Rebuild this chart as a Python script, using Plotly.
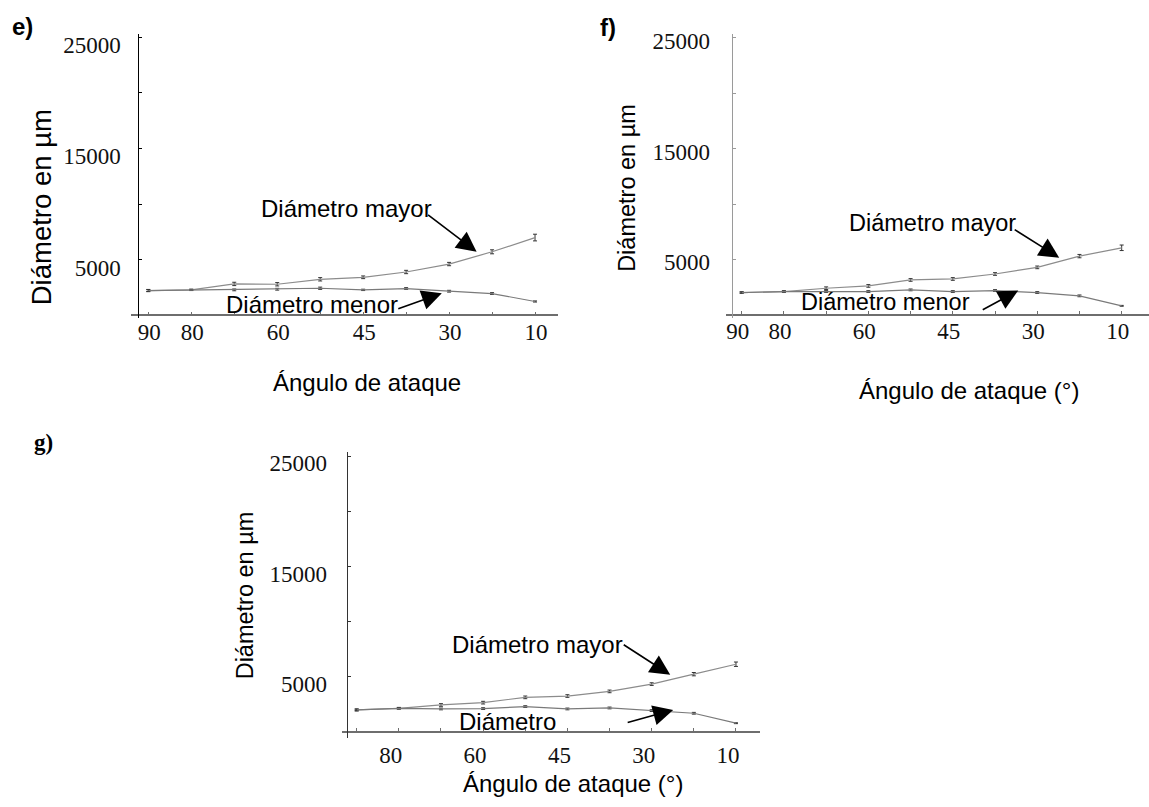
import plotly.graph_objects as go

W, H = 1149, 807

# --- datos -----------------------------------------------------------------
ANGULOS = ["90", "80", "70", "60", "50", "45", "40", "30", "20", "10"]
ROTULOS_EF = ["90", "80", "", "60", "", "45", "", "30", "", "10"]
ROTULOS_G = ["", "80", "", "60", "", "45", "", "30", "", "10"]

Y_TICKS = [5000, 10000, 15000, 20000, 25000]
Y_ROTULOS = ["5000", "", "15000", "", "25000"]

# e)
MAYOR_E = [2229, 2289, 2824, 2795, 3241, 3420, 3896, 4610, 5711, 6990]
MENOR_E = [2229, 2289, 2289, 2348, 2437, 2289, 2408, 2170, 1961, 1247]
ERR_MAYOR_E = [100, 60, 150, 150, 150, 120, 150, 150, 180, 300]
ERR_MENOR_E = [80, 50, 80, 80, 100, 60, 80, 80, 80, 50]

# f)
MAYOR_F = [2008, 2098, 2397, 2606, 3145, 3234, 3683, 4282, 5299, 6050]
MENOR_F = [2008, 2098, 2098, 2098, 2247, 2098, 2188, 2008, 1708, 808]
ERR_MAYOR_F = [60, 60, 120, 120, 120, 120, 120, 120, 150, 250]
ERR_MENOR_F = [60, 60, 80, 80, 80, 80, 80, 80, 80, 40]

# g)
MAYOR_G = [1981, 2131, 2432, 2642, 3123, 3243, 3664, 4326, 5227, 6129]
MENOR_G = [1981, 2131, 2071, 2101, 2281, 2071, 2161, 1921, 1680, 778]
ERR_MAYOR_G = [100, 80, 120, 120, 120, 120, 120, 120, 150, 200]
ERR_MENOR_G = [60, 60, 80, 80, 80, 80, 80, 80, 80, 40]

# --- geometría de cada panel (píxeles) ---------------------------------------
GEO = {
    "e": dict(x0=131, x1=558, yx=138.3, top=29.3, zero=312.3, bot=315.3,
              first=148.3, step=42.97, ppk=11.2),
    "f": dict(x0=726, x1=1149, yx=731.7, top=29.3, zero=311.7, bot=314.7,
              first=741.7, step=42.22, ppk=11.14),
    "g": dict(x0=341.7, x1=760, yx=346.7, top=449.3, zero=731.3, bot=738,
              first=356.7, step=42.14, ppk=11.09),
}


def fx(p):
    return p / W


def fy(p):
    return 1 - p / H


SANS = "Liberation Sans, Arial, sans-serif"
SERIF = "Liberation Serif, Times New Roman, serif"

fig = go.Figure()
layout = dict(
    width=W, height=H, margin=dict(l=0, r=0, t=0, b=0),
    paper_bgcolor="white", plot_bgcolor="rgba(0,0,0,0)", showlegend=False,
)
annotations = []

paneles = [
    ("e", 1, MAYOR_E, MENOR_E, ERR_MAYOR_E, ERR_MENOR_E, ROTULOS_EF,
     dict(ycol="#000000", xcol="#6e6e6e", yshift=8, ystand=13, xshift=1, xstand=-4)),
    ("f", 3, MAYOR_F, MENOR_F, ERR_MAYOR_F, ERR_MENOR_F, ROTULOS_EF,
     dict(ycol="#9a9a9a", xcol="#6e6e6e", yshift=3, ystand=17, xshift=-4, xstand=-4)),
    ("g", 5, MAYOR_G, MENOR_G, ERR_MAYOR_G, ERR_MENOR_G, ROTULOS_G,
     dict(ycol="#333333", xcol="#6e6e6e", yshift=7, ystand=15, xshift=-8, xstand=3)),
]

for clave, n, mayor, menor, err_may, err_men, rotulos, est in paneles:
    g = GEO[clave]
    xr = [(g["x0"] - g["first"]) / g["step"], (g["x1"] - g["first"]) / g["step"]]
    yr = [(g["zero"] - g["bot"]) / g["ppk"] * 1000, (g["zero"] - g["top"]) / g["ppk"] * 1000]
    xdom = [fx(g["x0"]), fx(g["x1"])]
    ydom = [fy(g["bot"]), fy(g["top"])]
    xname, yname = f"xaxis{'' if n == 1 else n}", f"yaxis{'' if n == 1 else n}"
    xo, yo = f"xaxis{n + 1}", f"yaxis{n + 1}"
    xref, yref = f"x{'' if n == 1 else n}", f"y{'' if n == 1 else n}"

    tick_font = dict(family=SERIF, size=23, color="#111111")

    layout[xname] = dict(
        type="category", domain=xdom, range=xr, anchor="free", position=fy(g["zero"]),
        showline=True, linecolor=est["xcol"], linewidth=1.5,
        tickmode="array", tickvals=ANGULOS, ticktext=rotulos,
        ticks="inside", ticklen=3, tickcolor=est["xcol"], tickwidth=1,
        tickfont=tick_font, ticklabelshift=est["xshift"], ticklabelstandoff=est["xstand"],
        showgrid=False, zeroline=False, fixedrange=True,
    )
    layout[yname] = dict(
        domain=ydom, range=yr, anchor="free", position=fx(g["yx"]),
        showline=True, linecolor=est["ycol"], linewidth=1,
        tickmode="array", tickvals=Y_TICKS, ticktext=Y_ROTULOS,
        ticks="inside", ticklen=3, tickcolor=est["ycol"], tickwidth=1,
        tickfont=tick_font, ticklabelshift=est["yshift"], ticklabelstandoff=est["ystand"],
        showgrid=False, zeroline=False, fixedrange=True,
    )
    # segunda capa de marcas para que crucen el eje
    layout[xo] = dict(
        overlaying=xref, range=xr, anchor="free", position=fy(g["zero"]),
        showline=False, tickmode="array", tickvals=list(range(len(ANGULOS))),
        ticks="outside", ticklen=3, tickcolor=est["xcol"], tickwidth=1,
        showticklabels=False, showgrid=False, zeroline=False, fixedrange=True,
    )
    layout[yo] = dict(
        overlaying=yref, range=yr, anchor="free", position=fx(g["yx"]),
        showline=False, tickmode="array", tickvals=Y_TICKS,
        ticks="outside", ticklen=3, tickcolor=est["ycol"], tickwidth=1,
        showticklabels=False, showgrid=False, zeroline=False, fixedrange=True,
    )

    for serie, err, col in ((mayor, err_may, "#8c8c8c"), (menor, err_men, "#7a7a7a")):
        fig.add_trace(go.Scatter(
            x=ANGULOS, y=serie, mode="lines", xaxis=xref, yaxis=yref,
            line=dict(color=col, width=1.2),
            error_y=dict(type="data", array=err, color="#333333", thickness=1, width=2),
            hoverinfo="skip",
        ))

# --- rótulos y flechas ---------------------------------------------------------
def texto(x, y, s, xr_, yr_, size=24):
    annotations.append(dict(x=x, y=y, xref=xr_, yref=yr_, text=s, showarrow=False,
                            xanchor="center", yanchor="middle",
                            font=dict(family=SANS, size=size, color="black")))


def flecha(x, y, ax, ay, xr_, yr_):
    annotations.append(dict(x=x, y=y, xref=xr_, yref=yr_, text="", showarrow=True,
                            ax=ax, ay=ay, arrowhead=2, arrowsize=2.5, arrowwidth=1.6,
                            arrowcolor="black"))


# e)
texto(4.62, 9580, "Diámetro mayor", "x", "y")
flecha(7.64, 5714, -50, -38, "x", "y")
texto(3.80, 1009, "Diámetro menor", "x", "y")
flecha(6.83, 1991, -45, 16, "x", "y")
# f)
texto(4.53, 8321, "Diámetro mayor", "x3", "y3", 23.5)
flecha(7.52, 5153, -46, -29, "x3", "y3")
texto(3.41, 1122, "Diámetro menor", "x3", "y3", 23.5)
flecha(6.55, 2190, -37, 20, "x3", "y3")
# g)
texto(4.28, 7935, "Diámetro mayor", "x5", "y5")
flecha(7.44, 5167, -48, -31, "x5", "y5")
texto(3.58, 929, "Diámetro", "x5", "y5")
flecha(7.51, 1984, -47, 13, "x5", "y5")


def papel(px, py, s, size, family=SANS, angle=0, bold=False):
    annotations.append(dict(x=fx(px), y=fy(py), xref="paper", yref="paper",
                            text=f"<b>{s}</b>" if bold else s, showarrow=False,
                            xanchor="center", yanchor="middle", textangle=angle,
                            font=dict(family=family, size=size, color="black")))


# títulos de ejes
papel(41, 203.5, "Diámetro en µm", 27.5, angle=-90)
papel(366.7, 380, "Ángulo de ataque", 24)
papel(627, 184, "Diámetro en µm", 23.5, angle=-90)
papel(969, 388, "Ángulo de ataque (°)", 24)
papel(245, 594, "Diámetro en µm", 23.5, angle=-90)
papel(572.5, 783, "Ángulo de ataque (°)", 24)

# letras de panel
papel(22, 22, "e)", 24, bold=True)
papel(608, 23, "f)", 24, bold=True)
papel(43, 440, "g)", 23, family=SERIF, bold=True)

layout["annotations"] = annotations
fig.update_layout(**layout)
fig.write_html("out.html")
